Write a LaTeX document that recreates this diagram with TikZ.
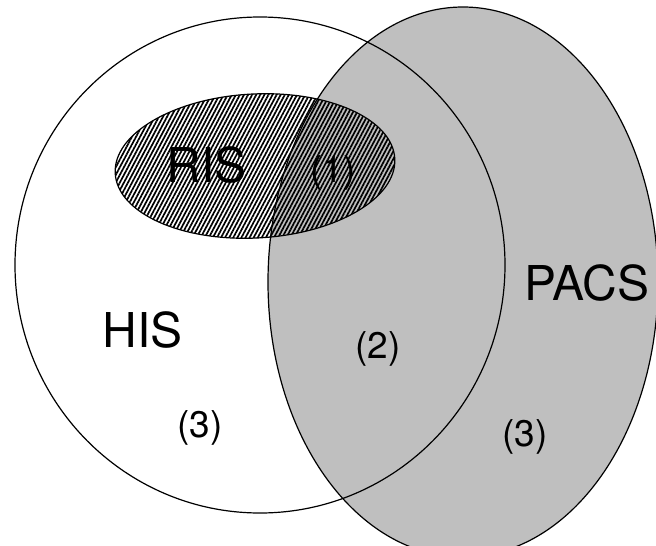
\documentclass[tikz,border=0pt]{standalone}
\usepackage{fontspec}
\setmainfont{TeX Gyre Heros}
\usepackage{tikz}
\usetikzlibrary{patterns.meta}
\tikzstyle{setline} = [draw, line width=1.2pt]
\tikzstyle{pacsarea} = [fill=black!25]
\tikzstyle{risarea} = [pattern={Lines[angle=62, distance=3.6pt, line width=1.7pt]}]
\tikzstyle{setname} = [inner sep=0, font=\fontsize{48}{48}\selectfont]
\tikzstyle{regionno} = [inner sep=0, font=\fontsize{37}{37}\selectfont]

\begin{document}
\begin{tikzpicture}[x=1pt, y=-1pt]
\useasboundingbox (0,0) rectangle (656,546);
\clip (0,0) rectangle (656,546);

\coordinate (hisc) at (260,265);
\coordinate (pacsc) at (463,282);
\coordinate (risc) at (255,166);

% areas first, outlines on top
\path [pacsarea] (pacsc) ellipse [x radius=195pt, y radius=275pt];
\path [risarea, rotate around={3:(risc)}] (risc) ellipse [x radius=140pt, y radius=72pt];

\path [setline] (hisc) ellipse [x radius=245pt, y radius=248pt];
\path [setline] (pacsc) ellipse [x radius=195pt, y radius=275pt];
\path [setline, rotate around={3:(risc)}] (risc) ellipse [x radius=140pt, y radius=72pt];

\node [setname] (ris) at (207,165) {RIS};
\node [setname] (his) at (143,330) {HIS};
\node [setname] (pacs) at (587,283) {PACS};

\node [regionno] (one) at (333,173) {(1)};
\node [regionno] (two) at (378,349) {(2)};
\node [regionno] (threel) at (200,428) {(3)};
\node [regionno] (threer) at (525,437) {(3)};

\end{tikzpicture}
\end{document}
